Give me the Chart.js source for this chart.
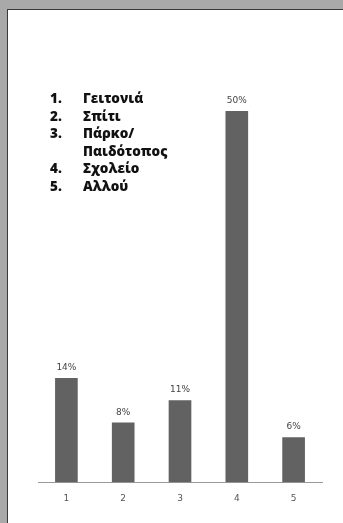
<!DOCTYPE html>
<html>
<head>
<meta charset="utf-8">
<script src="https://cdn.jsdelivr.net/npm/chart.js@4"></script>
<style>
    body { margin: 0; background: #a9a9a9; width: 343px; height: 523px; overflow: hidden; position: relative; }
    #panel { position: absolute; left: 7px; top: 9px; width: 336px; height: 514px; background: #fff;
             border-left: 1px solid #3a3a3a; border-top: 1px solid #3a3a3a; box-sizing: border-box; }
    #chart { position: absolute; left: 0; top: 0; }
    #legend { position: absolute; left: 50px; top: 90px; margin: 0; padding: 0; list-style: none;
              font-family: "Open Sans", sans-serif; font-weight: 800; font-size: 13.5px; line-height: 17.5px; color: #111; }
    #legend li { display: flex; }
    #legend .num { width: 33px; }
    #legend .txt { white-space: pre-line; }
</style>
</head>
<body>
<div id="panel"></div>
<canvas id="chart" width="343" height="523"></canvas>
<ul id="legend"></ul>
<script>
// Data
const categories = ['1', '2', '3', '4', '5'];
const values = [14, 8, 11, 50, 6];
const places = ['Γειτονιά', 'Σπίτι', 'Πάρκο/\nΠαιδότοπος', 'Σχολείο', 'Αλλού'];

// Legend list
const ul = document.getElementById('legend');
places.forEach((p, i) => {
    let li = document.createElement('li');
    li.innerHTML = `<span class="num">${i + 1}.</span><span class="txt"></span>`;
    li.querySelector('.txt').innerText = p;
    ul.appendChild(li);
});

// Percent labels above bars
const valueLabels = {
    id: 'valueLabels',
    afterDatasetsDraw(chart) {
        const ctx = chart.ctx;
        const meta = chart.getDatasetMeta(0);
        ctx.save();
        ctx.font = '9px "DejaVu Sans"';
        ctx.fillStyle = '#444';
        ctx.textAlign = 'center';
        ctx.textBaseline = 'bottom';
        meta.data.forEach((bar, i) => {
            ctx.fillText(values[i] + '%', bar.x, bar.y - 6);
        });
        ctx.restore();
    }
};

new Chart(document.getElementById('chart'), {
    type: 'bar',
    data: {
        labels: categories,
        datasets: [{
            data: values,
            backgroundColor: '#626262',
            barThickness: 22
        }]
    },
    options: {
        responsive: false,
        animation: false,
        layout: { padding: { left: 38, right: 21, top: 111, bottom: 8 } },
        plugins: { legend: { display: false }, tooltip: { enabled: false } },
        scales: {
            x: {
                grid: { display: false, drawTicks: false },
                border: { display: true, color: '#999', width: 1 },
                ticks: { color: '#555', font: { family: 'DejaVu Sans', size: 9 }, padding: 11 }
            },
            y: {
                display: false,
                min: 0,
                max: 50
            }
        }
    },
    plugins: [valueLabels]
});
</script>
</body>
</html>
